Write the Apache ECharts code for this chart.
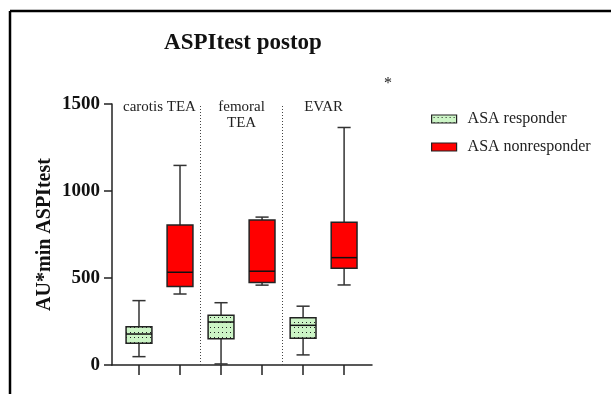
<!DOCTYPE html>
<html>
<head>
<meta charset="utf-8">
<script src="https://cdn.jsdelivr.net/npm/echarts@6/dist/echarts.min.js"></script>
<style>html,body{margin:0;padding:0;background:#fff;}#c{width:611px;height:394px;}</style>
</head>
<body>
<div id="c"></div>
<script>
// ---- data ----
const chartTitle = 'ASPItest postop';
const yAxisTitle = 'AU*min ASPItest';
const groupNames = ['carotis TEA', 'femoral\nTEA', 'EVAR'];
const seriesNames = ['ASA responder', 'ASA nonresponder'];
// [min, Q1, median, Q3, max]
const responderBox = [[48, 125, 178, 220, 370], [6, 151, 247, 286, 358], [58, 154, 228, 272, 338]];
const nonresponderBox = [[408, 451, 533, 804, 1147], [459, 474, 539, 834, 850], [460, 556, 617, 821, 1365]];
const yTicks = [0, 500, 1000, 1500];
const significance = '*';

const FONT = '"Liberation Serif", "Times New Roman", serif';

// dotted pattern for responder boxes
function makeDotPattern() {
  const cv = document.createElement('canvas');
  cv.width = 4; cv.height = 5;
  const ctx = cv.getContext('2d');
  ctx.fillStyle = '#ccf5c6';
  ctx.fillRect(0, 0, 4, 5);
  ctx.fillStyle = '#222';
  ctx.fillRect(2, 2, 1, 1);
  return { image: cv, repeat: 'repeat' };
}
const dotPattern = makeDotPattern();
const redFill = '#ff0000';

const chart = echarts.init(document.getElementById('c'), null, { renderer: 'canvas' });

function boxRenderer(fill) {
  return function (params, api) {
    const x = api.value(0);
    const lo = api.coord([x, api.value(1)]);
    const q1 = api.coord([x, api.value(2)]);
    const md = api.coord([x, api.value(3)]);
    const q3 = api.coord([x, api.value(4)]);
    const hi = api.coord([x, api.value(5)]);
    const unit = api.size([1, 0])[0];
    const hw = unit * 0.315;
    const cw = unit * 0.16;
    const cx = lo[0];
    const wStyle = { stroke: '#333', lineWidth: 1.5 };
    return {
      type: 'group',
      children: [
        { type: 'line', shape: { x1: cx, y1: lo[1], x2: cx, y2: q1[1] }, style: wStyle },
        { type: 'line', shape: { x1: cx, y1: q3[1], x2: cx, y2: hi[1] }, style: wStyle },
        { type: 'line', shape: { x1: cx - cw, y1: lo[1], x2: cx + cw, y2: lo[1] }, style: wStyle },
        { type: 'line', shape: { x1: cx - cw, y1: hi[1], x2: cx + cw, y2: hi[1] }, style: wStyle },
        { type: 'rect', shape: { x: cx - hw, y: q3[1], width: hw * 2, height: q1[1] - q3[1] },
          style: { fill: fill, stroke: '#222', lineWidth: 1.5 } },
        { type: 'line', shape: { x1: cx - hw, y1: md[1], x2: cx + hw, y2: md[1] }, style: { stroke: '#111', lineWidth: 1.5 } }
      ]
    };
  };
}

const option = {
  animation: false,
  backgroundColor: '#fff',
  grid: { left: 112, right: 239, top: 104, bottom: 29 },
  legend: {
    orient: 'vertical',
    left: 426,
    top: 106,
    itemWidth: 25,
    itemHeight: 8,
    itemGap: 12,
    icon: 'rect',
    textStyle: { fontFamily: FONT, fontSize: 16, color: '#222', padding: [0, 0, 0, 6] },
    data: [
      { name: seriesNames[0], itemStyle: { color: dotPattern, borderColor: '#222', borderWidth: 1.2 } },
      { name: seriesNames[1], itemStyle: { color: redFill, borderColor: '#222', borderWidth: 1.2 } }
    ]
  },
  xAxis: {
    type: 'value',
    min: 0.342,
    max: 6.68,
    axisLine: { show: true, lineStyle: { color: '#222', width: 1.5 } },
    axisTick: { show: true, customValues: [1, 2, 3, 4, 5, 6], length: 10, inside: false, lineStyle: { color: '#222', width: 1.5 } },
    axisLabel: { show: false },
    splitLine: { show: false }
  },
  yAxis: {
    type: 'value',
    min: 0,
    max: 1500,
    interval: 500,
    name: yAxisTitle,
    nameLocation: 'middle',
    nameGap: 57,
    nameTextStyle: { fontFamily: FONT, fontSize: 20, fontWeight: 'bold', color: '#111' },
    axisLine: { show: true, lineStyle: { color: '#222', width: 1.5 } },
    axisTick: { show: true, length: 8, lineStyle: { color: '#222', width: 1.5 } },
    axisLabel: { fontFamily: FONT, fontSize: 19, fontWeight: 'bold', color: '#111', margin: 12,
      customValues: yTicks, formatter: function (v) { return String(v); } },
    splitLine: { show: false }
  },
  series: [
    {
      name: seriesNames[0],
      type: 'custom',
      renderItem: boxRenderer(dotPattern),
      itemStyle: { color: dotPattern, borderColor: '#222' },
      encode: { x: 0, y: [1, 2, 3, 4, 5] },
      data: responderBox.map((b, i) => [2 * i + 1].concat(b)),
      markLine: {
        silent: true,
        symbol: ['none', 'none'],
        label: { show: false },
        lineStyle: { color: '#444', type: [1, 2], width: 1 },
        data: [{ xAxis: 2.5 }, { xAxis: 4.5 }]
      },
      z: 3
    },
    {
      name: seriesNames[1],
      type: 'custom',
      renderItem: boxRenderer(redFill),
      itemStyle: { color: redFill, borderColor: '#222' },
      encode: { x: 0, y: [1, 2, 3, 4, 5] },
      data: nonresponderBox.map((b, i) => [2 * i + 2].concat(b)),
      z: 3
    },
    {
      name: 'groups',
      type: 'custom',
      silent: true,
      renderItem: function (params, api) {
        const p = api.coord([api.value(0), 1500]);
        return {
          type: 'text',
          x: p[0], y: p[1] - 5,
          style: {
            text: groupNames[params.dataIndex],
            fontFamily: FONT, fontSize: 15, fill: '#222',
            align: 'center', verticalAlign: 'top', lineHeight: 16
          }
        };
      },
      encode: { x: 0, y: 1 },
      data: groupNames.map((g, i) => [2 * i + 1.5, 1500]),
      z: 4
    }
  ],
  graphic: [
    { type: 'line', shape: { x1: 10, y1: 11, x2: 611, y2: 11 }, style: { stroke: '#000', lineWidth: 2.5 } },
    { type: 'line', shape: { x1: 10, y1: 11, x2: 10, y2: 394 }, style: { stroke: '#000', lineWidth: 2.5 } },
    { type: 'text', x: 243, y: 43, style: { text: chartTitle, fontFamily: FONT, fontSize: 23, fontWeight: 'bold', fill: '#111', align: 'center', verticalAlign: 'middle' } },
    { type: 'text', x: 388, y: 84, style: { text: significance, fontFamily: FONT, fontSize: 16, fill: '#222', align: 'center', verticalAlign: 'middle' } }
  ]
};
chart.setOption(option);
</script>
</body>
</html>
